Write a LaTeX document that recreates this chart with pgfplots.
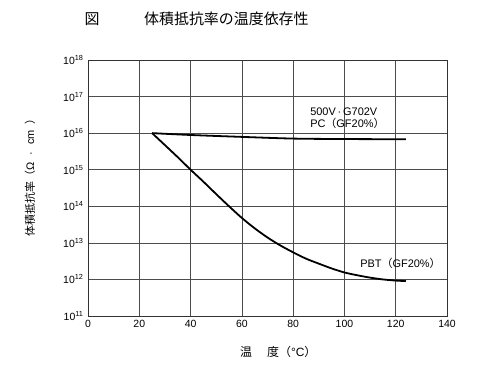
\documentclass[border=0pt]{standalone}
\usepackage{fontspec}
\setmainfont{Liberation Sans}
\newfontfamily\jp{Noto Sans CJK JP}
\usepackage{pgfplots}
\pgfplotsset{compat=1.18}
\pgfplotstableread{
x y
25 1.0e16
40 8.9e15
60 7.9e15
80 7.1e15
100 6.9e15
124 6.8e15
}\pctable
\pgfplotstableread{
x y
25 1.0e16
30 4.7e15
35 2.2e15
40 1.0e15
45 4.7e14
50 2.15e14
55 1.0e14
60 4.8e13
65 2.5e13
70 1.4e13
75 8.5e12
80 5.5e12
85 3.7e12
90 2.7e12
95 2.0e12
100 1.55e12
105 1.3e12
110 1.12e12
115 1.0e12
120 0.93e12
124 0.9e12
}\pbttable
\begin{document}
\begin{tikzpicture}
\path[use as bounding box] (-88bp,-59bp) rectangle (412bp,316bp);
\begin{axis}[
  at={(0,0)}, anchor=south west,
  scale only axis, width=359bp, height=256bp,
  xmin=0, xmax=140, ymin=1e11, ymax=1e18, ymode=log,
  xtick={0,20,40,60,80,100,120,140},
  ytick={1e11,1e12,1e13,1e14,1e15,1e16,1e17,1e18},
  yticklabels={10\textsuperscript{11},10\textsuperscript{12},10\textsuperscript{13},10\textsuperscript{14},10\textsuperscript{15},10\textsuperscript{16},10\textsuperscript{17},10\textsuperscript{18}},
  grid=major, major grid style={black!70, line width=0.6bp},
  axis line style={black!80, line width=0.8bp},
  tick style={draw=none},
  tick label style={font=\fontsize{10.5}{12}\selectfont},
  /pgf/number format/assume math mode=true,
  xticklabel style={yshift=-1bp},
  yticklabel style={xshift=-1bp},
]
\addplot[black, line width=1.8bp, smooth] table[x=x, y=y] {\pctable};
\addplot[black, line width=1.8bp, smooth] table[x=x, y=y] {\pbttable};
\node[anchor=west, font=\fontsize{11}{12}\selectfont, inner sep=0pt] at (axis cs:86.6,3.9e16) {500V\,·\,G702V};
\node[anchor=west, font=\fontsize{11}{12}\selectfont, inner sep=0pt] at (axis cs:86.6,1.85e16) {PC{\jp （}GF20\%{\jp ）}};
\node[anchor=west, font=\fontsize{11}{12}\selectfont, inner sep=0pt] at (axis cs:106.1,2.8e12) {PBT{\jp （}GF20\%{\jp ）}};
\end{axis}
\node[font=\jp\fontsize{15}{16}\selectfont] at (4bp,297bp) {図};
\node[anchor=west, inner sep=0pt, font=\jp\fontsize{15}{16}\selectfont] at (56bp,297bp) {体積抵抗率の温度依存性};
\node[anchor=west, inner sep=0pt, font=\fontsize{12}{13}\selectfont] at (152bp,-36bp) {{\jp 温}\hspace{15bp}{\jp 度（}°C{\jp ）}};
\node[rotate=90, font=\fontsize{11}{12}\selectfont] at (-58bp,141bp) {{\jp 体積抵抗率（}Ω\hspace{7bp}·\hspace{7bp}cm\hspace{5bp}{\jp ）}};
\end{tikzpicture}
\end{document}
